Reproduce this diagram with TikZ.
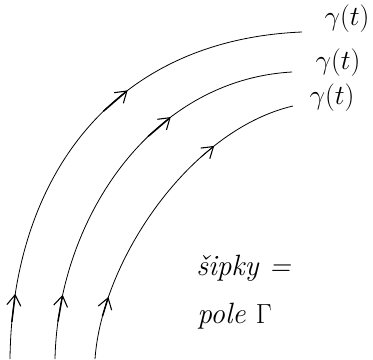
\documentclass[tikz,border=0pt]{standalone}
\usepackage{fontspec}
\usetikzlibrary{arrows.meta}

\begin{document}
\begin{tikzpicture}[
  x=0.75pt, y=-0.75pt,
  every node/.style={font=\fontsize{20}{22}\selectfont, inner sep=0pt},
  curve/.style={line width=0.6pt},
  fieldtip/.style={-{Straight Barb[length=8pt,width=10.5pt,line width=0.8pt]}, line width=1.1pt},
  note/.style={font=\fontsize{22}{24}\selectfont\itshape}
]
  \useasboundingbox (0,0) rectangle (373,359);

  % three curves gamma(t)
  \coordinate (s1) at (10,359);
  \coordinate (e1) at (302,32);
  \coordinate (s2) at (55,359);
  \coordinate (e2) at (292,72);
  \coordinate (s3) at (95,359);
  \coordinate (e3) at (293,106);

  \draw[curve] (s1) .. controls (12,180) and (110,40) .. (e1)
    coordinate[pos=0.07] (b1a) coordinate[pos=0.125] (b1b)
    coordinate[pos=0.56] (m1a) coordinate[pos=0.63] (m1b);
  \draw[curve] (s2) .. controls (58,220) and (150,80) .. (e2)
    coordinate[pos=0.09] (b2a) coordinate[pos=0.155] (b2b)
    coordinate[pos=0.60] (m2a) coordinate[pos=0.675] (m2b);
  \draw[curve] (s3) .. controls (102,260) and (190,130) .. (e3)
    coordinate[pos=0.14] (b3a) coordinate[pos=0.20] (b3b)
    coordinate[pos=0.68] (m3a) coordinate[pos=0.73] (m3b);

  % arrows of the field
  \draw[fieldtip] (b1a) -- (b1b);
  \draw[fieldtip] (b2a) -- (b2b);
  \draw[fieldtip] (b3a) -- (b3b);
  \draw[fieldtip] (m1a) -- (m1b);
  \draw[fieldtip] (m2a) -- (m2b);
  \draw[fieldtip, line width=0.6pt] (m3a) -- (m3b);

  % labels
  \node (g1) at (347,19) {$\gamma(t)$};
  \node (g2) at (338,63) {$\gamma(t)$};
  \node (g3) at (332,98) {$\gamma(t)$};

  \node[note, anchor=west] (sipky) at (196,268) {šipky =};
  \node[note, anchor=west] (pole) at (197,316) {pole $\Gamma$};
\end{tikzpicture}
\end{document}
